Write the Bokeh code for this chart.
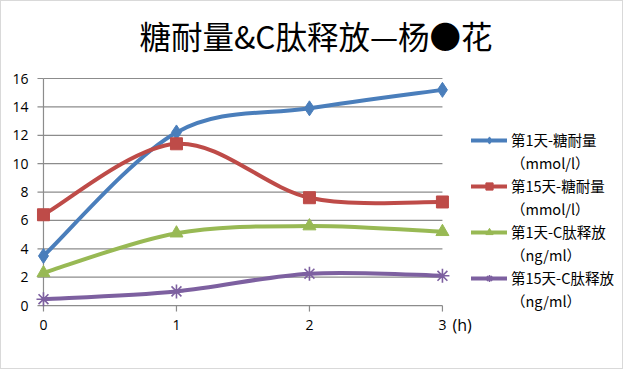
import numpy as np
from bokeh.plotting import figure
from bokeh.models import Range1d, Legend, LegendItem, FixedTicker, ColumnDataSource
from bokeh.core.properties import value
from bokeh.embed import file_html
from bokeh.resources import INLINE

# ---- data ----
hours = [0, 1, 2, 3]
x_tick_labels = ["0", "1", "2", "3"]
y_ticks = [0, 2, 4, 6, 8, 10, 12, 14, 16]
day1_glucose = [3.5, 12.2, 13.9, 15.2]
day15_glucose = [6.4, 11.4, 7.6, 7.3]
day1_cpeptide = [2.3, 5.1, 5.6, 5.2]
day15_cpeptide = [0.45, 1.0, 2.25, 2.1]
series_names = ["第1天-糖耐量", "第15天-糖耐量", "第1天-C肽释放", "第15天-C肽释放"]
series_units = ["（mmol/l）", "（mmol/l）", "（ng/ml）", "（ng/ml）"]
title_text = "糖耐量&C肽释放—杨●花"
unit_label = "(h)"

colors = ["#4A7EBB", "#BE4B48", "#98B954", "#7D60A0"]
markers = ["diamond", "square", "triangle", "asterisk"]
marker_sizes = [15, 12, 13, 14]

CJK = "Noto Sans CJK SC"
LATIN = "Open Sans"
GRID = "#8C8C8C"


def smooth_segments(xs, ys):
    """Bezier control points for an Excel-like smoothed line."""
    n = len(xs)
    d = dict(x0=[], y0=[], x1=[], y1=[], cx0=[], cy0=[], cx1=[], cy1=[])
    for i in range(n - 1):
        pm = max(i - 1, 0)
        pp = min(i + 2, n - 1)
        d["x0"].append(xs[i]); d["y0"].append(ys[i])
        d["x1"].append(xs[i + 1]); d["y1"].append(ys[i + 1])
        d["cx0"].append(xs[i] + (xs[i + 1] - xs[pm]) / 6.0)
        d["cy0"].append(ys[i] + (ys[i + 1] - ys[pm]) / 6.0)
        d["cx1"].append(xs[i + 1] - (xs[pp] - xs[i]) / 6.0)
        d["cy1"].append(ys[i + 1] - (ys[pp] - ys[i]) / 6.0)
    return ColumnDataSource(d)


# the plotting frame covers the whole canvas right of the y axis, so that the
# legend, the title and the unit text are not clipped
p = figure(frame_width=587, frame_height=367,
           x_range=Range1d(-0.06, 4.354), y_range=Range1d(-4.434, 21.427),
           output_backend="svg", toolbar_location=None, x_axis_location=None,
           min_border_left=34, min_border_right=0,
           min_border_top=0, min_border_bottom=0)
p.styles = {"border": "1px solid #d9d9d9"}
p.outline_line_color = None
p.xgrid.visible = False
p.ygrid.visible = False

# title
p.text(x=[2.049], y=[19.1], text=[title_text], text_align="center", text_baseline="middle",
       text_font=value(CJK), text_font_size="31.5px", text_color="#000000")

# y axis (labels only; lines drawn below)
ax = p.yaxis[0]
ax.axis_line_color = None
ax.major_tick_line_color = None
ax.minor_tick_line_color = None
ax.major_label_text_font = LATIN
ax.major_label_text_font_size = "14px"
ax.major_label_text_color = "#000000"
ax.major_label_standoff = 1
ax.ticker = FixedTicker(ticks=y_ticks)

# grid lines, axis lines and tick marks
p.segment(x0=[hours[0]] * len(y_ticks), y0=y_ticks, x1=[hours[-1]] * len(y_ticks), y1=y_ticks,
          line_color=GRID, line_width=1.2)
p.segment(x0=[hours[0]], y0=[y_ticks[0]], x1=[hours[0]], y1=[y_ticks[-1]], line_color=GRID, line_width=1.2)
p.ray(x=[hours[0]] * len(y_ticks), y=y_ticks, length=6, angle=np.pi, length_units="screen",
      line_color=GRID, line_width=1.2)
p.ray(x=hours, y=[y_ticks[0]] * len(hours), length=6, angle=-np.pi / 2, length_units="screen",
      line_color=GRID, line_width=1.2)

# x tick labels and unit
p.text(x=hours, y=[y_ticks[0]] * len(hours), text=x_tick_labels, y_offset=19,
       text_align="center", text_baseline="middle", text_font=value(LATIN),
       text_font_size="14px", text_color="#000000")
p.text(x=[hours[-1]], y=[y_ticks[0]], text=[unit_label], x_offset=10, y_offset=19,
       text_align="left", text_baseline="middle", text_font=value(LATIN),
       text_font_size="16px", text_color="#000000")

items = []
for ys, c, m, ms, name, unit in zip([day1_glucose, day15_glucose, day1_cpeptide, day15_cpeptide],
                                    colors, markers, marker_sizes, series_names, series_units):
    src = smooth_segments(hours, ys)
    r_line = p.bezier(x0="x0", y0="y0", x1="x1", y1="y1", cx0="cx0", cy0="cy0", cx1="cx1", cy1="cy1",
                      source=src, line_color=c, line_width=4, line_cap="round")
    if m == "asterisk":
        r_pt = p.scatter(hours, ys, marker=m, size=ms, line_color=c, line_width=1.6)
    else:
        r_pt = p.scatter(hours, ys, marker=m, size=ms, fill_color=c, line_color=c)
    r_blank = p.scatter(hours, ys, size=1, fill_alpha=0, line_alpha=0)
    items.append(LegendItem(label=name, renderers=[r_line, r_pt]))
    items.append(LegendItem(label=unit, renderers=[r_blank]))

legend = Legend(items=items, location=(436, 57), margin=0, padding=0,
                border_line_color=None, background_fill_color=None,
                glyph_width=36, glyph_height=18, label_standoff=4, spacing=2,
                label_height=18,
                label_text_font=CJK, label_text_font_size="14.5px",
                label_text_color="#000000")
p.add_layout(legend)

open("out.html", "w").write(file_html(p, INLINE))
